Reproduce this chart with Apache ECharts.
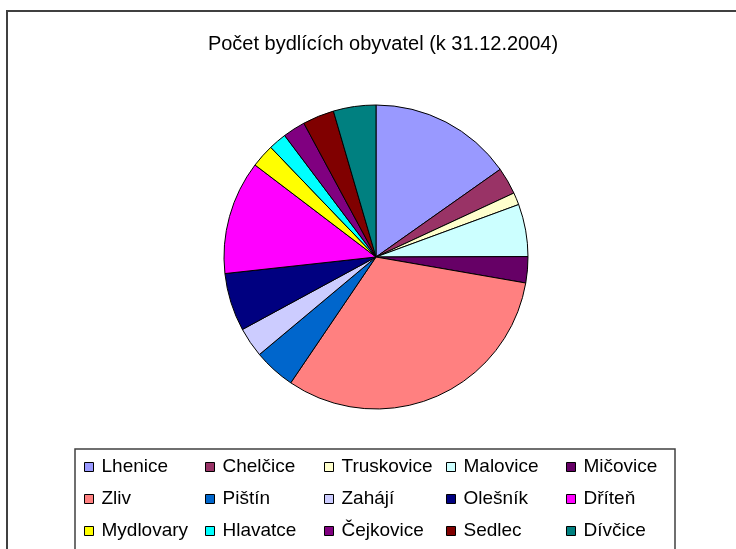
<!DOCTYPE html>
<html><head><meta charset="utf-8">
<script src="https://cdn.jsdelivr.net/npm/echarts@6/dist/echarts.min.js"></script>
<style>html,body{margin:0;padding:0;background:#fff}#c{width:736px;height:549px}</style>
</head><body><div id="c"></div>
<script>
const categories = ["Lhenice","Chelčice","Truskovice","Malovice","Mičovice","Zliv","Pištín","Zahájí","Olešník","Dříteň","Mydlovary","Hlavatce","Čejkovice","Sedlec","Dívčice"];
const values = [1750, 330, 150, 640, 320, 3650, 510, 365, 710, 1390, 285, 220, 275, 385, 520];
const colors = ["#9999FF","#993366","#FFFFCC","#CCFFFF","#660066","#FF8080","#0066CC","#CCCCFF","#000080","#FF00FF","#FFFF00","#00FFFF","#800080","#800000","#008080"];
const titleText = "Počet bydlících obyvatel (k 31.12.2004)";

const chart = echarts.init(document.getElementById('c'));
const font = "'Liberation Sans', Arial, sans-serif";
const colLeft = [84, 205, 324, 446, 566];
const rowTop = [457, 489, 521];
const legends = categories.map((name, i) => ({
  data: [name],
  left: colLeft[i % 5], top: rowTop[Math.floor(i / 5)],
  itemWidth: 9, itemHeight: 9, padding: 0,
  icon: 'rect',
  itemStyle: { borderColor: '#000', borderWidth: 1 },
  textStyle: { fontFamily: font, fontSize: 19, lineHeight: 20, color: '#000', padding: [0, 0, 0, 3] },
  selectedMode: false
}));
chart.setOption({
  animation: false,
  color: colors,
  title: { text: titleText, left: 378, textAlign: 'center', top: 29, textStyle: { fontFamily: font, fontSize: 20, fontWeight: 'normal', color: '#000' } },
  legend: legends,
  graphic: [
    { type: 'rect', shape: { x: 7, y: 11, width: 740, height: 560 }, style: { fill: 'none', stroke: '#404040', lineWidth: 2 }, z: -1 },
    { type: 'rect', shape: { x: 75, y: 449, width: 600, height: 120 }, style: { fill: 'none', stroke: '#404040', lineWidth: 1.5 }, z: -1 }
  ],
  series: [{
    type: 'pie', center: [376, 257], radius: 152, startAngle: 90, clockwise: true,
    label: { show: false }, labelLine: { show: false },
    itemStyle: { borderColor: '#000', borderWidth: 1 },
    emphasis: { disabled: true },
    data: categories.map((c, i) => ({ name: c, value: values[i] }))
  }]
});
</script></body></html>
